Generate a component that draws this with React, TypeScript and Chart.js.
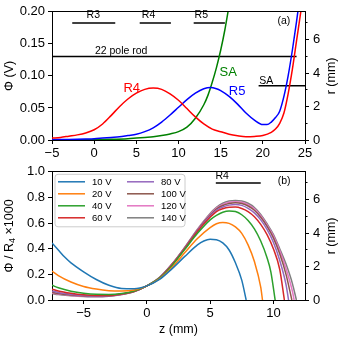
import React, { useEffect, useRef } from "react";
import { Chart, registerables } from "chart.js";
Chart.register(...registerables);

const FONT = "'Liberation Sans', Arial, Helvetica, sans-serif";
const MINUS = "\u2212";

// ================= panel (a) =================
const zTicksA = [-5, 0, 5, 10, 15, 20, 25];
const phiTicksA = [0, 0.05, 0.1, 0.15, 0.2];
const rTicks = [0, 2, 4, 6];
const rMinorTicks = [1, 3, 5, 7];

const zR4 = [-5, -4, -3, -2, -1, 0, 1, 2, 3, 4, 5, 6, 7, 8, 9, 10, 11, 12, 13, 14, 15, 16, 17, 18, 19, 20, 21, 21.5, 22, 22.5, 23, 23.5, 24, 24.5, 25];
const phiR4 = [0.003, 0.004, 0.006, 0.008, 0.011, 0.016, 0.025, 0.038, 0.052, 0.064, 0.073, 0.079, 0.081, 0.079, 0.072, 0.062, 0.049, 0.036, 0.025, 0.017, 0.013, 0.009, 0.0065, 0.005, 0.0055, 0.007, 0.012, 0.017, 0.026, 0.042, 0.072, 0.11, 0.155, 0.2, 0.25];

const zR5 = [-5, -3, -1, 0, 1, 2, 3, 4, 5, 6, 7, 8, 9, 10, 11, 12, 13, 13.8, 14.5, 15, 16, 17, 18, 19, 20, 20.5, 21, 21.5, 22, 22.5, 23, 23.5, 24, 24.5];
const phiR5 = [0.0005, 0.0008, 0.0015, 0.002, 0.003, 0.004, 0.005, 0.007, 0.009, 0.013, 0.019, 0.028, 0.039, 0.051, 0.063, 0.073, 0.08, 0.082, 0.08, 0.077, 0.068, 0.056, 0.042, 0.031, 0.024, 0.024, 0.028, 0.035, 0.045, 0.068, 0.1, 0.14, 0.185, 0.235];

const zSA = [-5, 0, 2, 4, 5, 6, 7, 8, 9, 10, 11, 12, 13, 13.5, 14, 14.5, 15, 15.5, 16];
const phiSA = [0.0003, 0.0005, 0.001, 0.002, 0.003, 0.004, 0.005, 0.007, 0.0095, 0.013, 0.02, 0.034, 0.055, 0.07, 0.09, 0.113, 0.14, 0.172, 0.21];

// electrode bars (r axis)
const barNames = ["R3", "R4", "R5", "22 pole rod", "SA"];
const barStart = [-2.6, 5.4, 11.8, -5, 19.5];
const barEnd = [2.5, 9.1, 15.5, 24, 25];
const barR = [7, 7, 7, 5, 3.25];

// ================= panel (b) =================
const zTicksB = [-5, 0, 5, 10];
const vTicksB = [0, 0.2, 0.4, 0.6, 0.8, 1.0];
const voltLabels = ["10 V", "20 V", "40 V", "60 V", "80 V", "100 V", "120 V", "140 V"];
const voltColors = ["#1f77b4", "#ff7f0e", "#2ca02c", "#d62728", "#9467bd", "#8c564b", "#e377c2", "#7f7f7f"];

const zLeft = [-7.5, -7, -6, -5, -4, -3, -2, -1, 0, 1, 2, 3, 4];

const z10 = [-7.5, -7, -6.5, -6, -5, -4, -3, -2, -1, 0, 1, 2, 3, 4, 4.5, 5, 5.5, 6, 6.5, 7, 7.5, 7.85];
const v10 = [0.445, 0.39, 0.335, 0.29, 0.22, 0.16, 0.115, 0.09, 0.088, 0.11, 0.16, 0.245, 0.34, 0.43, 0.46, 0.473, 0.47, 0.445, 0.39, 0.29, 0.155, 0];

const z20 = [...zLeft, 5, 5.5, 6, 6.5, 7, 7.5, 8, 8.5, 9, 9.14];
const v20 = [0.225, 0.19, 0.14, 0.105, 0.085, 0.073, 0.07, 0.078, 0.11, 0.165, 0.255, 0.37, 0.48, 0.565, 0.595, 0.605, 0.598, 0.57, 0.52, 0.43, 0.3, 0.1, 0];

const z40 = [...zLeft, 5, 5.5, 6, 6.5, 7, 7.5, 8, 8.5, 9, 9.5, 9.8, 10.14];
const v40 = [0.115, 0.095, 0.068, 0.052, 0.044, 0.043, 0.05, 0.07, 0.11, 0.17, 0.27, 0.395, 0.52, 0.625, 0.66, 0.685, 0.695, 0.69, 0.665, 0.62, 0.555, 0.46, 0.33, 0.22, 0];

const z60 = [...zLeft, 5, 5.5, 6, 6.5, 7, 7.5, 8, 8.5, 9, 9.5, 10, 10.5, 10.87];
const v60 = [0.085, 0.07, 0.052, 0.04, 0.035, 0.036, 0.046, 0.068, 0.11, 0.17, 0.275, 0.4, 0.535, 0.645, 0.69, 0.712, 0.723, 0.725, 0.714, 0.69, 0.65, 0.59, 0.51, 0.4, 0.24, 0];

const z80 = [...zLeft, 5, 5.5, 6, 6.5, 7, 7.5, 8, 8.5, 9, 9.5, 10, 10.5, 11, 11.2];
const v80 = [0.07, 0.058, 0.044, 0.035, 0.031, 0.033, 0.045, 0.067, 0.11, 0.172, 0.278, 0.405, 0.54, 0.655, 0.7, 0.725, 0.74, 0.745, 0.738, 0.715, 0.68, 0.625, 0.55, 0.45, 0.31, 0.12, 0];

const z100 = [...zLeft, 5, 5.5, 6, 6.5, 7, 7.5, 8, 8.5, 9, 9.5, 10, 10.5, 11, 11.46];
const v100 = [0.06, 0.05, 0.039, 0.032, 0.029, 0.032, 0.044, 0.066, 0.11, 0.174, 0.28, 0.408, 0.545, 0.662, 0.71, 0.737, 0.752, 0.758, 0.752, 0.733, 0.7, 0.645, 0.575, 0.485, 0.36, 0.2, 0];

const z120 = [...zLeft, 5, 5.5, 6, 6.5, 7, 7.5, 8, 8.5, 9, 9.5, 10, 10.5, 11, 11.5, 11.64];
const v120 = [0.055, 0.046, 0.036, 0.03, 0.027, 0.031, 0.043, 0.066, 0.11, 0.175, 0.28, 0.41, 0.548, 0.668, 0.716, 0.746, 0.762, 0.767, 0.762, 0.744, 0.712, 0.658, 0.585, 0.5, 0.385, 0.245, 0.07, 0];

const z140 = [...zLeft, 5, 5.5, 6, 6.5, 7, 7.5, 8, 8.5, 9, 9.5, 10, 10.5, 11, 11.5, 11.82];
const v140 = [0.05, 0.042, 0.034, 0.028, 0.025, 0.03, 0.043, 0.066, 0.11, 0.176, 0.282, 0.412, 0.552, 0.675, 0.722, 0.755, 0.772, 0.777, 0.772, 0.755, 0.722, 0.668, 0.595, 0.512, 0.4, 0.28, 0.13, 0];

const voltZ = [z10, z20, z40, z60, z80, z100, z120, z140];
const voltV = [v10, v20, v40, v60, v80, v100, v120, v140];

// R4 bar in panel (b)
const bBarStart = [5.45];
const bBarEnd = [9.0];
const bBarR = [7];

// ================= helpers =================
const pts = (xs: number[], ys: number[]) => xs.map((x, i) => ({ x, y: ys[i] }));
const fmt = (v: number, d: number) => (v < 0 ? MINUS : "") + Math.abs(v).toFixed(d);

type Txt = { text: string; x: number; y: number; axis: string; color: string; size: number; align?: CanvasTextAlign };
type Part = { t: string; size: number; dy?: number };

function drawParts(ctx: CanvasRenderingContext2D, parts: Part[], cx: number, cy: number, rot: number) {
  ctx.save();
  ctx.translate(cx, cy);
  ctx.rotate(rot);
  ctx.textBaseline = "middle";
  ctx.textAlign = "left";
  let total = 0;
  for (const p of parts) {
    ctx.font = `${p.size}px ${FONT}`;
    total += ctx.measureText(p.t).width;
  }
  let x = -total / 2;
  for (const p of parts) {
    ctx.font = `${p.size}px ${FONT}`;
    ctx.fillText(p.t, x, p.dy || 0);
    x += ctx.measureText(p.t).width;
  }
  ctx.restore();
}

function decor(cfg: {
  texts: Txt[];
  leftTitle: Part[];
  rightTitle: Part[];
  bottomTitle?: Part[];
  legend?: boolean;
}) {
  return {
    id: "decor",
    afterDraw(chart: any) {
      const { ctx, chartArea: a, scales } = chart;
      ctx.save();
      ctx.strokeStyle = "#000";
      ctx.lineWidth = 1;
      // top frame line
      const ty = Math.round(a.top - 0.5) + 0.5;
      ctx.beginPath();
      ctx.moveTo(a.left, ty);
      ctx.lineTo(a.right + 0.5, ty);
      ctx.stroke();
      // minor ticks on right axis
      for (const v of rMinorTicks) {
        const y = Math.round(scales.yR.getPixelForValue(v) - 0.5) + 0.5;
        ctx.beginPath();
        ctx.moveTo(a.right, y);
        ctx.lineTo(a.right + 2.5, y);
        ctx.stroke();
      }
      // annotations
      for (const t of cfg.texts) {
        ctx.font = `${t.size}px ${FONT}`;
        ctx.fillStyle = t.color;
        ctx.textAlign = t.align || "center";
        ctx.textBaseline = "middle";
        ctx.fillText(t.text, scales.x.getPixelForValue(t.x), scales[t.axis].getPixelForValue(t.y));
      }
      ctx.fillStyle = "#000";
      const cy = (a.top + a.bottom) / 2;
      drawParts(ctx, cfg.leftTitle, 10, cy, -Math.PI / 2);
      drawParts(ctx, cfg.rightTitle, 332, cy, -Math.PI / 2);
      if (cfg.bottomTitle) drawParts(ctx, cfg.bottomTitle, (a.left + a.right) / 2, a.bottom + 30, 0);
      if (cfg.legend) {
        const bx = a.left + 3, by = a.top + 2.5, bw = 130, bh = 52.5, r = 3;
        ctx.beginPath();
        ctx.moveTo(bx + r, by);
        ctx.arcTo(bx + bw, by, bx + bw, by + bh, r);
        ctx.arcTo(bx + bw, by + bh, bx, by + bh, r);
        ctx.arcTo(bx, by + bh, bx, by, r);
        ctx.arcTo(bx, by, bx + bw, by, r);
        ctx.closePath();
        ctx.fillStyle = "rgba(255,255,255,0.85)";
        ctx.fill();
        ctx.strokeStyle = "#cccccc";
        ctx.stroke();
        ctx.font = `9.5px ${FONT}`;
        ctx.textAlign = "left";
        ctx.textBaseline = "middle";
        voltLabels.forEach((lab, i) => {
          const col = Math.floor(i / 4), row = i % 4;
          const x0 = bx + 3 + col * 69;
          const y0 = by + 7.5 + row * 12;
          ctx.strokeStyle = voltColors[i];
          ctx.lineWidth = 1.5;
          ctx.beginPath();
          ctx.moveTo(x0, y0);
          ctx.lineTo(x0 + 27, y0);
          ctx.stroke();
          ctx.fillStyle = "#000";
          ctx.fillText(lab, x0 + 34, y0 + 0.5);
        });
      }
      ctx.restore();
    },
  };
}

const axisCommon = (extra: any) => ({
  type: "linear",
  grid: { drawOnChartArea: false, drawTicks: true, tickLength: 4, color: "#000", tickWidth: 1 },
  border: { display: true, color: "#000", width: 1 },
  ...extra,
});

const tickFont = { family: FONT, size: 13 };

function makeScales(xMin: number, xMax: number, xTicks: number[], xH: number, yMin: number, yMax: number, yTicks: number[], yDec: number) {
  return {
    x: axisCommon({
      min: xMin,
      max: xMax,
      afterFit: (s: any) => { s.height = xH; },
      afterBuildTicks: (s: any) => { s.ticks = xTicks.map((v) => ({ value: v })); },
      ticks: { font: tickFont, color: "#000", padding: 2, autoSkip: false, maxRotation: 0, callback: (v: number) => fmt(v, 0) },
    }),
    y: axisCommon({
      position: "left",
      min: yMin,
      max: yMax,
      afterFit: (s: any) => { s.width = 52; },
      afterBuildTicks: (s: any) => { s.ticks = yTicks.map((v) => ({ value: v })); },
      ticks: { font: tickFont, color: "#000", padding: 3, callback: (v: number) => fmt(v, yDec) },
    }),
    yR: axisCommon({
      position: "right",
      min: 0,
      max: 7.67,
      afterFit: (s: any) => { s.width = 35; },
      afterBuildTicks: (s: any) => { s.ticks = rTicks.map((v) => ({ value: v })); },
      ticks: { font: tickFont, color: "#000", padding: 4, callback: (v: number) => fmt(v, 0) },
    }),
  };
}

const curve = (data: any[], color: string, yAxisID = "y", width = 1.5) => ({
  data,
  borderColor: color,
  backgroundColor: color,
  borderWidth: width,
  pointRadius: 0,
  fill: false,
  cubicInterpolationMode: "monotone",
  yAxisID,
});

function PanelA() {
  const ref = useRef<HTMLCanvasElement>(null);
  useEffect(() => {
    const datasets: any[] = [
      curve(pts(zR4, phiR4), "#ff0000"),
      curve(pts(zR5, phiR5), "#0000ff"),
      curve(pts(zSA, phiSA), "#008000"),
      ...barNames.map((_, i) => ({ ...curve(pts([barStart[i], barEnd[i]], [barR[i], barR[i]]), "#000", "yR", 1.5), cubicInterpolationMode: "default" })),
    ];
    const texts: Txt[] = [
      { text: "R3", x: -0.1, y: 7.45, axis: "yR", color: "#000", size: 10.5 },
      { text: "R4", x: 6.45, y: 7.45, axis: "yR", color: "#000", size: 10.5 },
      { text: "R5", x: 12.7, y: 7.45, axis: "yR", color: "#000", size: 10.5 },
      { text: "22 pole rod", x: 3.2, y: 5.3, axis: "yR", color: "#000", size: 10.5 },
      { text: "SA", x: 20.4, y: 3.55, axis: "yR", color: "#000", size: 10.5 },
      { text: "(a)", x: 22.5, y: 0.185, axis: "y", color: "#000", size: 10.5 },
      { text: "R4", x: 4.45, y: 0.081, axis: "y", color: "#ff0000", size: 13 },
      { text: "R5", x: 16.95, y: 0.0765, axis: "y", color: "#0000ff", size: 13 },
      { text: "SA", x: 15.9, y: 0.105, axis: "y", color: "#008000", size: 13 },
    ];
    const chart = new Chart(ref.current as HTMLCanvasElement, {
      type: "line",
      data: { datasets },
      options: {
        animation: false,
        responsive: false,
        maintainAspectRatio: false,
        layout: { padding: { top: 7, left: 0, right: 0, bottom: 0 } },
        plugins: { legend: { display: false }, tooltip: { enabled: false } },
        scales: makeScales(-5, 25, zTicksA, 20, 0, 0.2, phiTicksA, 2) as any,
      },
      plugins: [
        decor({
          texts,
          leftTitle: [{ t: "Φ (V)", size: 12.5 }],
          rightTitle: [{ t: "r (mm)", size: 12.5 }],
        }),
      ],
    } as any);
    return () => chart.destroy();
  }, []);
  return <canvas ref={ref} width={340} height={160} style={{ position: "absolute", left: 0, top: 0, width: 340, height: 160 }} />;
}

function PanelB() {
  const ref = useRef<HTMLCanvasElement>(null);
  useEffect(() => {
    const datasets: any[] = [
      ...voltLabels.map((_, i) => curve(pts(voltZ[i], voltV[i]), voltColors[i])),
      ...bBarR.map((r, i) => ({ ...curve(pts([bBarStart[i], bBarEnd[i]], [r, r]), "#000", "yR", 1.5), cubicInterpolationMode: "default" })),
    ];
    const texts: Txt[] = [
      { text: "R4", x: 5.95, y: 7.42, axis: "yR", color: "#000", size: 10.5 },
      { text: "(b)", x: 10.85, y: 0.93, axis: "y", color: "#000", size: 10.5 },
    ];
    const chart = new Chart(ref.current as HTMLCanvasElement, {
      type: "line",
      data: { datasets },
      options: {
        animation: false,
        responsive: false,
        maintainAspectRatio: false,
        layout: { padding: { top: 7, left: 0, right: 0, bottom: 0 } },
        plugins: { legend: { display: false }, tooltip: { enabled: false } },
        scales: makeScales(-7.5, 12.5, zTicksB, 40, 0, 1.0, vTicksB, 1) as any,
      },
      plugins: [
        decor({
          texts,
          leftTitle: [
            { t: "Φ / R", size: 12.5 },
            { t: "4", size: 9, dy: 3 },
            { t: " ×1000", size: 12.5 },
          ],
          rightTitle: [{ t: "r (mm)", size: 12.5 }],
          bottomTitle: [{ t: "z (mm)", size: 12.5 }],
          legend: true,
        }),
      ],
    } as any);
    return () => chart.destroy();
  }, []);
  return <canvas ref={ref} width={340} height={180} style={{ position: "absolute", left: 0, top: 160, width: 340, height: 180 }} />;
}

export default function App() {
  return (
    <div style={{ position: "fixed", left: 0, top: 0, width: 340, height: 340, background: "#fff", overflow: "hidden" }}>
      <PanelA />
      <PanelB />
    </div>
  );
}
